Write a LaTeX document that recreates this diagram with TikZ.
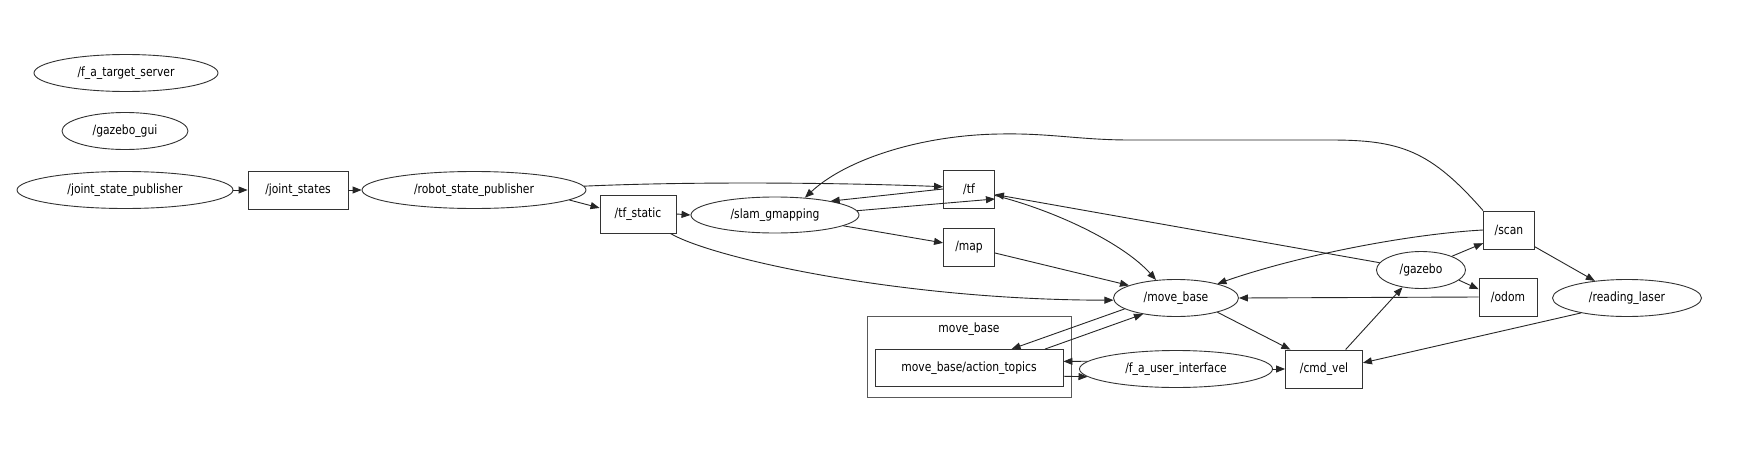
\documentclass[tikz,border=0pt]{standalone}
\usepackage{fontspec}
\setmainfont{DejaVu Sans}[FakeStretch=0.84]
\usetikzlibrary{shapes.geometric,arrows.meta}
\begin{document}
\begin{tikzpicture}[x=1pt,y=-1pt,
  every node/.style={font=\fontsize{12.8}{15}\selectfont, inner sep=0pt, draw=black!80, line width=0.9pt, text=black},
  ell/.style={ellipse, minimum height=37pt},
  topicbox/.style={rectangle, minimum height=38pt},
  edge/.style={draw=black!85, line width=0.9pt, -{Triangle[length=9pt,width=7pt]}},
  clusterbox/.style={draw=black!65, line width=0.9pt}
]
\useasboundingbox (0,0) rectangle (1745,460);
\fill[white] (0,0) rectangle (1745,460);

% cluster
\draw[clusterbox] (867,316) rectangle (1071,397);
\node[draw=none] (clabel) at (969,329) {move\_base};

% nodes
\node[ell, minimum width=184pt] (fats) at (126,73) {/f\_a\_target\_server};
\node[ell, minimum width=126pt] (ggui) at (125,131) {/gazebo\_gui};
\node[ell, minimum width=216pt] (jsp) at (125,190) {/joint\_state\_publisher};
\node[topicbox, minimum width=100pt] (js) at (298,190) {/joint\_states};
\node[ell, minimum width=224pt] (rsp) at (474,190) {/robot\_state\_publisher};
\node[topicbox, minimum width=76pt] (tfs) at (638,214) {/tf\_static};
\node[ell, minimum width=168pt, minimum height=36pt] (slam) at (775,215) {/slam\_gmapping};
\node[topicbox, minimum width=51pt] (tf) at (969,189) {/tf};
\node[topicbox, minimum width=51pt] (map) at (969,247) {/map};
\node[ell, minimum width=125pt] (mb) at (1176,298) {/move\_base};
\node[topicbox, minimum width=188pt, minimum height=37pt] (at) at (969,368) {move\_base/action\_topics};
\node[ell, minimum width=193pt] (ui) at (1176,369) {/f\_a\_user\_interface};
\node[topicbox, minimum width=77pt] (cmd) at (1324,369) {/cmd\_vel};
\node[ell, minimum width=89pt] (gz) at (1421,270) {/gazebo};
\node[topicbox, minimum width=51pt] (scan) at (1509,230) {/scan};
\node[topicbox, minimum width=58pt] (odom) at (1508,297) {/odom};
\node[ell, minimum width=149pt] (rl) at (1627,298) {/reading\_laser};

% edges
\draw[edge] (jsp.east) -- (js.west);
\draw[edge] (js.east) -- (rsp.west);
\draw[edge] (rsp.2) .. controls (700,181) and (850,183) .. (tf.175);
\draw[edge] (rsp.-6) -- (tfs.171);
\draw[edge] (tfs.east) -- (slam.west);
\draw[edge] (slam.3) -- (tf.-21);
\draw[edge] (tf.180) -- (slam.14);
\draw[edge] (slam.-9) -- (map.171);
\draw[edge] (tfs.-31) .. controls (712,258) and (900,300) .. (mb.182);
\draw[edge] (map.-13) -- (mb.165);
\draw[edge] (tf.-14) .. controls (1060,212) and (1125,245) .. (mb.138);
\draw[edge] (gz.170) -- (tf.-12);
\draw[edge] (scan.north west) .. controls (1430,150) and (1400,140) .. (1330,140)
  -- (1130,140) .. controls (1080,140) and (1050,133) .. (1000,134)
  .. controls (920,135) and (845,160) .. (slam.30);
\draw[edge] (scan.west) .. controls (1410,234) and (1300,255) .. (mb.19);
\draw[edge] (scan.-33) -- (rl.152);
\draw[edge] (gz.24) -- (scan.207);
\draw[edge] (gz.-15) -- (odom.165);
\draw[edge] (odom.west) -- (mb.east);
\draw[edge] (cmd.42) -- (gz.223);
\draw[edge] (rl.198) -- (cmd.9);
\draw[edge] (mb.-19) -- (cmd.150);
\draw[edge] (mb.192) -- (at.24);
\draw[edge] (at.14) -- (mb.206);
\draw[edge] (ui.175) -- (at.4);
\draw[edge] (at.-5) -- (ui.185);
\draw[edge] (ui.east) -- (cmd.west);
\end{tikzpicture}
\end{document}
